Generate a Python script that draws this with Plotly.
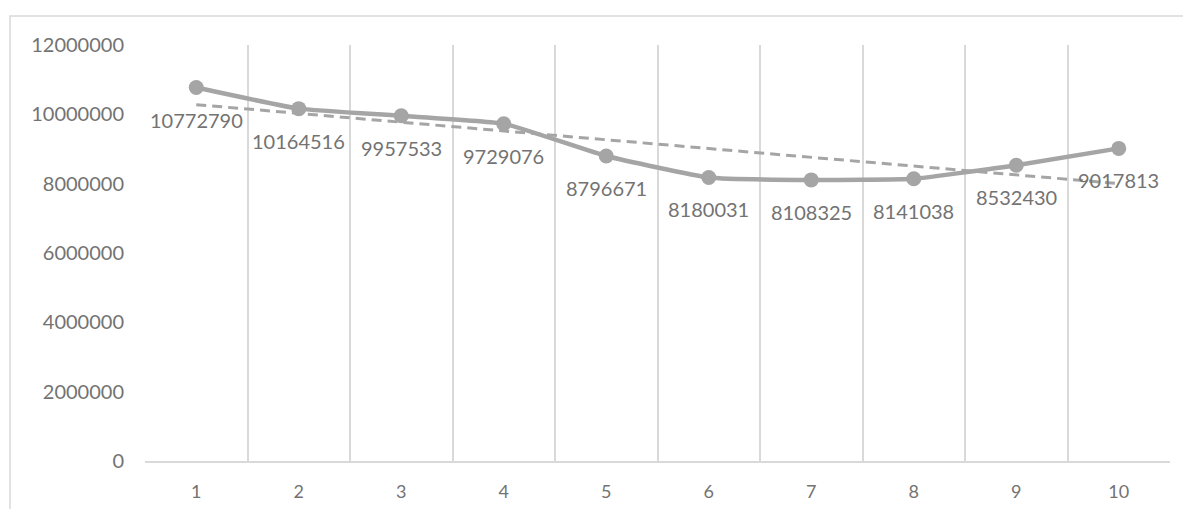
import numpy as np
import plotly.graph_objects as go

# Series data
categories = [1, 2, 3, 4, 5, 6, 7, 8, 9, 10]
values = [10772790, 10164516, 9957533, 9729076, 8796671,
          8180031, 8108325, 8141038, 8532430, 9017813]
y_ticks = [0, 2000000, 4000000, 6000000, 8000000, 10000000, 12000000]

LINE = "#a5a5a5"
GRID = "#d9d9d9"
TEXT = "#737373"
FONT = "Lato, 'Open Sans', sans-serif"

# Linear trend fitted through the series
slope, intercept = np.polyfit(categories, values, 1)
trend = [slope * c + intercept for c in categories]

fig = go.Figure()

fig.add_trace(go.Scatter(
    x=categories, y=values, mode="lines+markers",
    line=dict(color=LINE, width=4.5, shape="spline", smoothing=0.4),
    marker=dict(color=LINE, size=15),
    showlegend=False, hoverinfo="skip",
))

fig.add_trace(go.Scatter(
    x=categories, y=trend, mode="lines",
    line=dict(color=LINE, width=3, dash="10px,6px"),
    showlegend=False, hoverinfo="skip",
))

# Value labels under each point
for c, v in zip(categories, values):
    fig.add_annotation(
        x=c, y=v, text=str(v), showarrow=False,
        yanchor="middle", yshift=-32,
        font=dict(family=FONT, size=20, color=TEXT),
    )

# Outer chart border
fig.add_shape(
    type="rect", xref="paper", yref="paper",
    x0=-0.1317, x1=1.03, y0=-0.3, y1=1.0697,
    line=dict(color=GRID, width=1.5), fillcolor="rgba(0,0,0,0)",
    layer="below",
)

fig.update_layout(
    width=1183, height=509,
    margin=dict(l=145, r=13, t=45, b=48),
    paper_bgcolor="white", plot_bgcolor="white",
    font=dict(family=FONT, color=TEXT),
    xaxis=dict(
        range=[0.5, 10.5], tickvals=categories,
        ticktext=[str(c) for c in categories],
        showgrid=False, zeroline=False, automargin=False,
        showline=True, linecolor=GRID, linewidth=1.5,
        ticks="", ticklabelstandoff=14,
        tickfont=dict(family=FONT, size=18, color=TEXT),
        minor=dict(tickvals=[c - 0.5 for c in categories] + [10.5],
                   showgrid=True, gridcolor=GRID, gridwidth=1.5),
    ),
    yaxis=dict(
        range=[0, 12000000], tickvals=y_ticks,
        ticktext=[str(t) for t in y_ticks],
        showgrid=False, zeroline=False, showline=False, automargin=False,
        ticks="", ticklabelstandoff=20,
        tickfont=dict(family=FONT, size=20, color=TEXT),
    ),
)

fig.write_html("out.html")
